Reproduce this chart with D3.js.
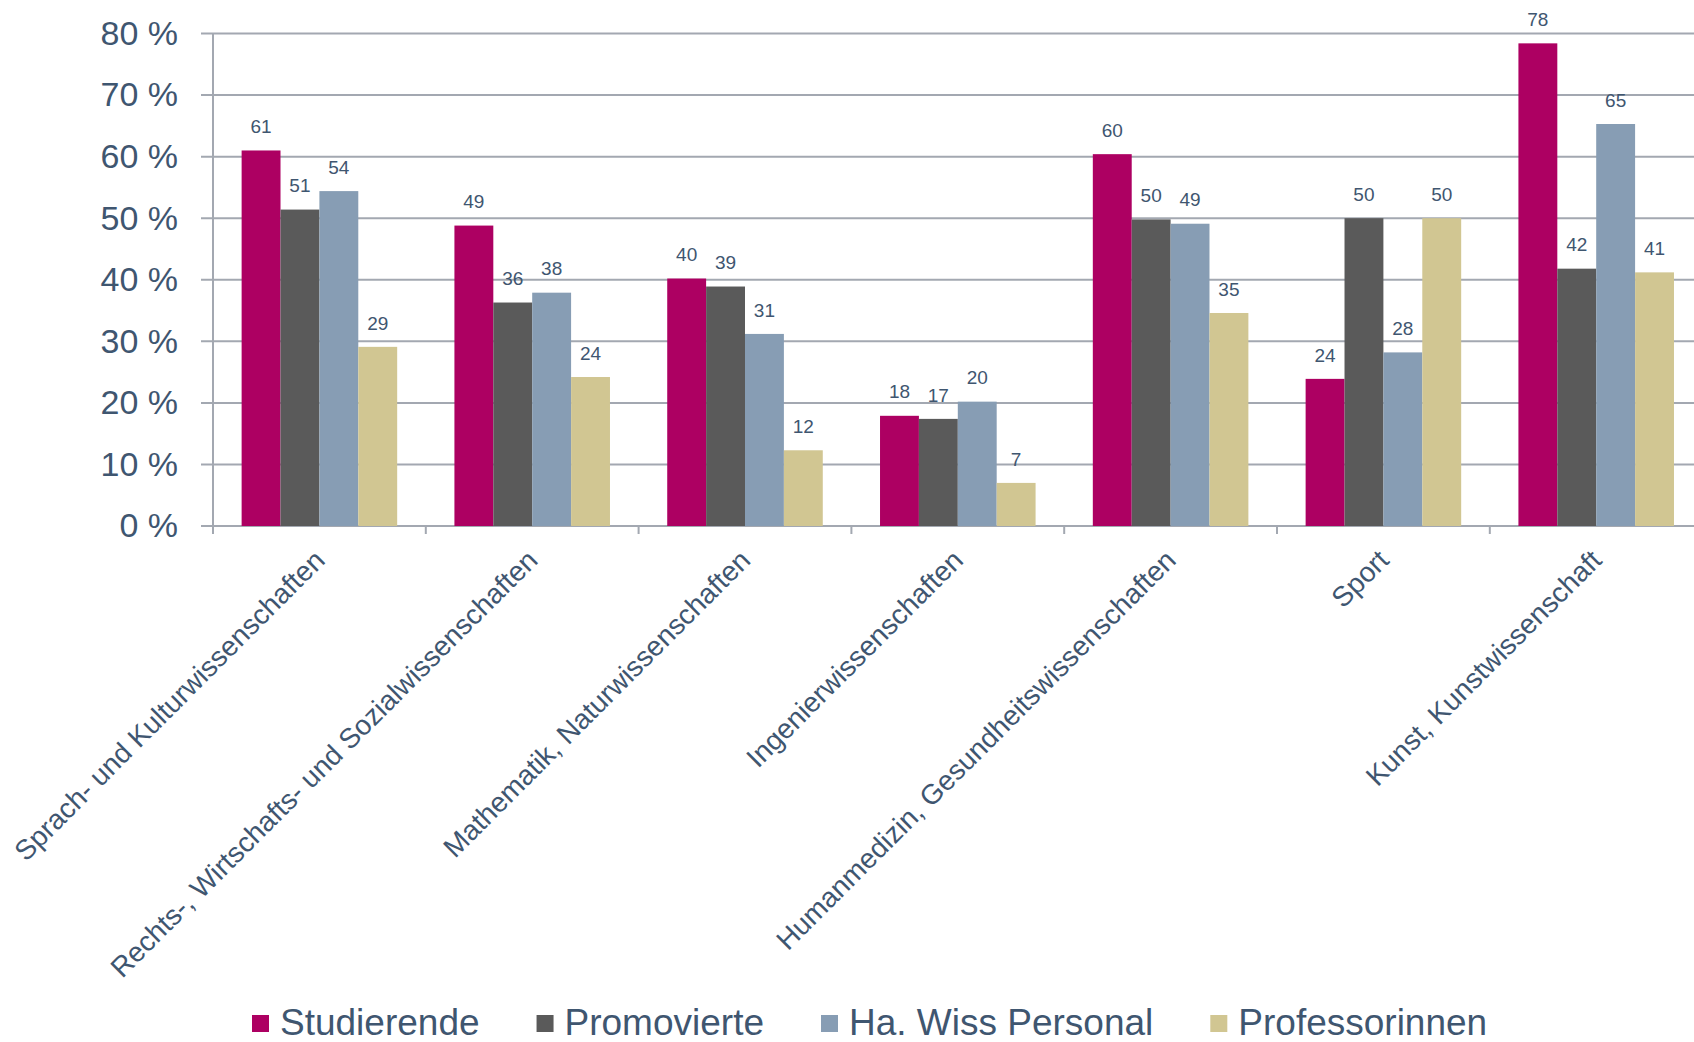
<!DOCTYPE html>
<html>
<head>
<meta charset="utf-8">
<script src="https://cdn.jsdelivr.net/npm/d3@7.9.0/dist/d3.min.js"></script>
<style>
  html, body { margin: 0; padding: 0; background: #fff; }
  svg { display: block; font-family: "Liberation Sans", Arial, sans-serif; }
</style>
</head>
<body>
<svg id="chart" width="1694" height="1042"></svg>
<script>
// categories and series
const categories = [
  "Sprach- und Kulturwissenschaften",
  "Rechts-, Wirtschafts- und Sozialwissenschaften",
  "Mathematik, Naturwissenschaften",
  "Ingenierwissenschaften",
  "Humanmedizin, Gesundheitswissenschaften",
  "Sport",
  "Kunst, Kunstwissenschaft"
];
const seriesNames = ["Studierende", "Promovierte", "Ha. Wiss Personal", "Professorinnen"];
const seriesColors = ["#ad0062", "#5a5a5a", "#879db4", "#d1c692"];

const studierende = [61.0, 48.8, 40.2, 17.9, 60.4, 23.9, 78.4];
const promovierte = [51.4, 36.3, 38.9, 17.4, 49.8, 50.0, 41.8];
const haWiss      = [54.4, 37.9, 31.2, 20.2, 49.1, 28.2, 65.3];
const professorinnen = [29.1, 24.2, 12.3, 7.0, 34.6, 50.0, 41.2];

const yTicks = [0, 10, 20, 30, 40, 50, 60, 70, 80];

const series = [studierende, promovierte, haWiss, professorinnen];
const textColor = "#3f5670";
const gridColor = "#a3a8b1";

const svg = d3.select("#chart");
const W = 1694;

const x = d3.scaleBand()
  .domain(categories)
  .range([213, 1702.6])
  .paddingInner(0.269)
  .paddingOuter(0.1345);

const x1 = d3.scaleBand()
  .domain(seriesNames)
  .range([0, x.bandwidth()]);

const y = d3.scaleLinear().domain([0, 80]).range([526, 33.5]);

// gridlines
svg.append("g").selectAll("line")
  .data(yTicks)
  .join("line")
  .attr("x1", 201).attr("x2", W)
  .attr("y1", d => y(d)).attr("y2", d => y(d))
  .attr("stroke", gridColor)
  .attr("stroke-width", 2);

// y axis labels
const yAxis = svg.append("g")
  .attr("transform", "translate(213,0)")
  .call(d3.axisLeft(y).tickValues(yTicks).tickFormat(d => d + " %").tickSize(0).tickPadding(35));
yAxis.select(".domain").remove();
yAxis.selectAll("text")
  .attr("font-size", 34)
  .attr("font-family", "'Liberation Sans', Arial, sans-serif")
  .attr("fill", textColor);

// axis line
svg.append("line")
  .attr("x1", 213).attr("x2", 213).attr("y1", y(80)).attr("y2", y(0) + 8)
  .attr("stroke", gridColor).attr("stroke-width", 2);

// category boundary ticks
const bounds = d3.range(categories.length + 1).map(i => x.range()[0] + i * x.step());
svg.append("g").selectAll("line")
  .data(bounds)
  .join("line")
  .attr("x1", d => d).attr("x2", d => d)
  .attr("y1", y(0)).attr("y2", y(0) + 8)
  .attr("stroke", gridColor).attr("stroke-width", 2);

// bars
const groups = svg.append("g").selectAll("g")
  .data(categories)
  .join("g")
  .attr("transform", d => `translate(${x(d)},0)`);

groups.selectAll("rect")
  .data((c, ci) => seriesNames.map((s, si) => ({ s, si, v: series[si][ci] })))
  .join("rect")
  .attr("x", d => x1(d.s))
  .attr("width", x1.bandwidth())
  .attr("y", d => y(d.v))
  .attr("height", d => y(0) - y(d.v))
  .attr("fill", d => seriesColors[d.si]);

// value labels
groups.selectAll("text")
  .data((c, ci) => seriesNames.map((s, si) => ({ s, si, v: series[si][ci] })))
  .join("text")
  .attr("x", d => x1(d.s) + x1.bandwidth() / 2)
  .attr("y", d => y(d.v) - 24)
  .attr("dy", "0.35em")
  .attr("text-anchor", "middle")
  .attr("font-size", 19)
  .attr("fill", textColor)
  .text(d => Math.round(d.v));

// category labels
svg.append("g").selectAll("text")
  .data(categories)
  .join("text")
  .attr("text-anchor", "end")
  .attr("transform", d => `translate(${x(d) + x.bandwidth() / 2 + 7},${y(0) + 36}) rotate(-45)`)
  .attr("font-size", 28)
  .attr("fill", textColor)
  .text(d => d);

// legend
const legend = svg.append("g").attr("transform", "translate(252,1022)");
let lx = 0;
seriesNames.forEach((name, i) => {
  const g = legend.append("g").attr("transform", `translate(${lx},0)`);
  g.append("rect")
    .attr("x", 0).attr("y", -7)
    .attr("width", 17).attr("height", 17)
    .attr("fill", seriesColors[i]);
  const t = g.append("text")
    .attr("x", 28).attr("y", 0)
    .attr("dy", "0.35em")
    .attr("font-size", 37)
    .attr("fill", textColor)
    .text(name);
  lx += 28 + t.node().getComputedTextLength() + 57;
});
</script>
</body>
</html>
